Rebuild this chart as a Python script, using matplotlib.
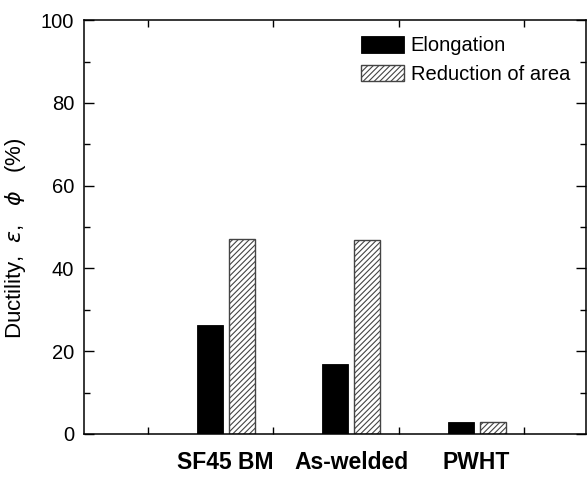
import numpy as np
import matplotlib
matplotlib.use('Agg')
import matplotlib.pyplot as plt

plt.rcParams['font.family'] = ['Liberation Sans', 'DejaVu Sans']
plt.rcParams['hatch.linewidth'] = 0.8

groups = ['SF45 BM', 'As-welded', 'PWHT']
elongation = [26.3, 16.8, 2.8]
reduction = [47.2, 46.9, 2.9]

x = np.arange(1, len(groups) + 1)
w = 0.207
off = 0.127

fig = plt.figure(figsize=(5.87, 4.79), dpi=100)
ax = fig.add_axes([0.143, 0.094, 0.855, 0.864])

ax.bar(x - off, elongation, w, color='black', edgecolor='black', linewidth=0.6, label='Elongation')
ax.bar(x + off, reduction, w, color='white', edgecolor='#444444', hatch='//////', linewidth=1.0,
       label='Reduction of area')

ax.set_xlim(x[0] - 1.13, x[-1] + 0.87)
ax.set_ylim(0, 100)
ax.set_yticks(np.arange(0, 101, 20))
ax.set_yticks(np.arange(10, 100, 20), minor=True)
ax.set_xticks(x)
ax.set_xticklabels(groups, fontsize=16.5, fontweight='bold')
ax.set_xticks(np.append(x - 0.62, x[-1] + 0.38), minor=True)

ax.tick_params(axis='x', which='major', length=0, pad=12)
ax.tick_params(axis='both', which='minor', direction='in', length=4, width=1, top=True, right=True)
ax.tick_params(axis='y', which='major', direction='in', length=7, width=1, right=True, labelsize=14.5, pad=7)
ax.tick_params(axis='x', which='minor', length=5)

for s in ax.spines.values():
    s.set_linewidth(1.1)

ax.set_ylabel(r'Ductility,  $\varepsilon$,   $\phi$   (%)', fontsize=16)
ax.yaxis.set_label_coords(-0.112, 0.473)

leg = ax.legend(loc='upper left', bbox_to_anchor=(0.535, 0.98), frameon=False, fontsize=14.5,
                handlelength=2.15, handleheight=0.85, handletextpad=0.35, labelspacing=0.45,
                borderaxespad=0)

fig.savefig('out.png', dpi=100)
